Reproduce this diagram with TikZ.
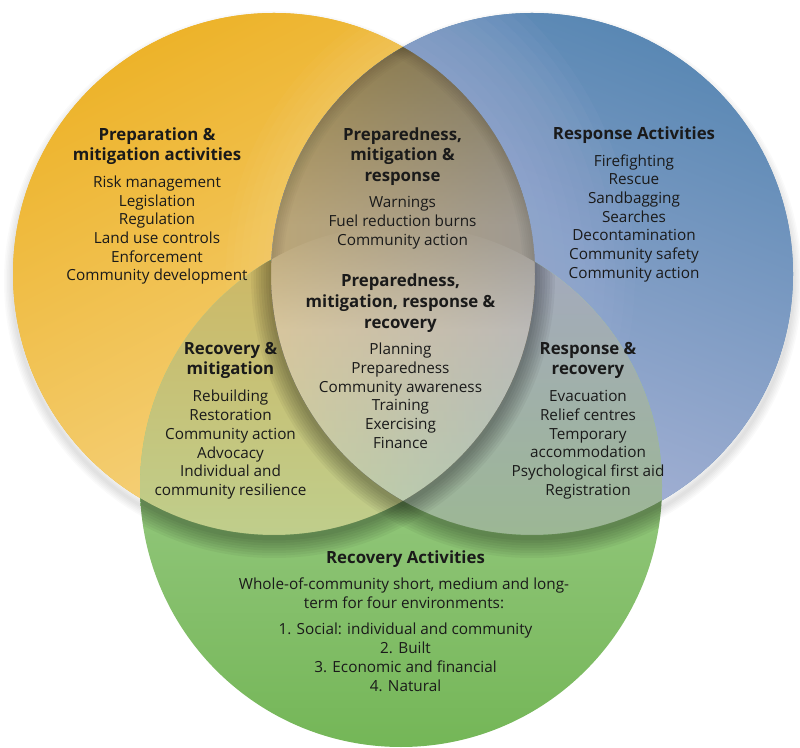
\documentclass[tikz,border=0pt]{standalone}
\usepackage{fontspec}
\setmainfont{Open Sans}
\definecolor{ylw}{HTML}{EDB32A}
\definecolor{ylwlt}{HTML}{F6D68A}
\definecolor{blu}{HTML}{5A88B4}
\definecolor{blult}{HTML}{AEB6D8}
\definecolor{bluglow}{HTML}{A6B2D8}
\definecolor{grnlt}{HTML}{B0D79F}
\definecolor{grndk}{HTML}{74B657}
\definecolor{ygtop}{HTML}{CDB866}
\definecolor{ygbot}{HTML}{BFCE8C}
\definecolor{bgtop}{HTML}{A4AABD}
\definecolor{bgbot}{HTML}{9CB794}
\definecolor{lnstop}{HTML}{6E5E2A}
\definecolor{lnsmid}{HTML}{A29577}
\definecolor{trimid}{HTML}{CEC6B0}
\definecolor{tribot}{HTML}{B8D6B4}
\definecolor{warm}{HTML}{E9C67A}
\definecolor{cool}{HTML}{98A2C6}
\definecolor{txt}{HTML}{1A1A1A}
\tikzset{
  ttl/.style={font=\bfseries\fontsize{16.8}{20.7}\selectfont, align=center, anchor=base, inner sep=0pt, text=txt},
  bdy/.style={font=\fontsize{15.3}{18.7}\selectfont, align=center, anchor=base, inner sep=0pt, text=txt},
  shd/.style={black, opacity=0.045}
}
\begin{document}
\begin{tikzpicture}[x=1pt,y=1pt]
\useasboundingbox (0,0) rectangle (800,747);
\def\ycirc{(274,473) circle (261)}
\def\bcirc{(532,473) circle (261)}
\def\gcirc{(401,261) circle (261)}
% soft drop shadows on white
\foreach \w in {3,6,...,18} {
  \draw[black,opacity=0.02,line width=\w] (274,466) circle (261);
  \draw[black,opacity=0.02,line width=\w] (532,466) circle (261);
}
% yellow circle
\fill[ylw] \ycirc;
\shade[top color=ylw, middle color=ylw, bottom color=ylwlt, shading angle=27] \ycirc;
\begin{scope}
  \clip \ycirc;
  \begin{scope}[even odd rule]
    \clip (-10,-10) rectangle (810,760) \bcirc;
    \foreach \w in {15,30,...,90} {\draw[ylwlt, opacity=0.06, line width=\w] (532,473) circle (261);}
  \end{scope}
\end{scope}
% blue circle
\fill[blu] \bcirc;
\shade[top color=blu, bottom color=blult, shading angle=-21] \bcirc;
\begin{scope}
  \clip \bcirc;
  \begin{scope}[even odd rule]
    \clip (-10,-10) rectangle (810,760) \ycirc;
    \foreach \w in {20,40,...,200} {\draw[bluglow, opacity=0.07, line width=\w] (274,473) circle (261);}
  \end{scope}
\end{scope}
% green circle
\shade[top color=grnlt, bottom color=grndk] \gcirc;
% yellow & green
\begin{scope}
  \clip \ycirc; \clip \gcirc;
  \shade[top color=ygtop, bottom color=ygbot] (130,485) rectangle (540,210);
\end{scope}
% blue & green
\begin{scope}
  \clip \bcirc; \clip \gcirc;
  \shade[top color=bgtop, bottom color=bgbot] (265,485) rectangle (670,210);
\end{scope}
% yellow & blue lens and triple region
\begin{scope}
  \clip \ycirc; \clip \bcirc;
  \shade[top color=lnstop, bottom color=lnsmid] (265,700) rectangle (540,522);
  \fill[lnsmid] (265,522) rectangle (540,240);
  \begin{scope}
    \clip \gcirc;
    \shade[top color=lnsmid, bottom color=trimid] (265,522) rectangle (540,417);
    \shade[top color=trimid, bottom color=tribot] (265,417) rectangle (540,246);
  \end{scope}
  \shade[left color=warm, right color=cool, opacity=0.35] (271,700) rectangle (535,246);
\end{scope}
% shadow of yellow onto green
\begin{scope}
  \clip \gcirc;
  \begin{scope}[even odd rule]
    \clip (-10,-10) rectangle (810,760) \ycirc;
    \foreach \w in {5,10,...,40} {\draw[shd, line width=\w] (274,470) circle (261);}
  \end{scope}
\end{scope}
% shadow of blue onto green
\begin{scope}
  \clip \gcirc;
  \begin{scope}[even odd rule]
    \clip (-10,-10) rectangle (810,760) \bcirc;
    \foreach \w in {5,10,...,40} {\draw[shd, line width=\w] (532,470) circle (261);}
  \end{scope}
\end{scope}
% inner shadow of lens above green
\begin{scope}
  \clip \ycirc; \clip \bcirc;
  \begin{scope}[even odd rule]
    \clip (-10,-10) rectangle (810,760) \gcirc;
    \foreach \w in {4,8,...,24} {
      \draw[black,opacity=0.018, line width=\w] (274,473) circle (261);
      \draw[black,opacity=0.018, line width=\w] (532,473) circle (261);
    }
  \end{scope}
\end{scope}
% texts (anchor = baseline of the last line)
\node[ttl] (t1) at (157,586) {Preparation \&\\mitigation activities};
\node[bdy] (b1) at (157,466) {Risk management\\Legislation\\Regulation\\Land use controls\\Enforcement\\Community development};
\node[ttl] (t2) at (402.5,565.3) {Preparedness,\\mitigation \&\\response};
\node[bdy] (b2) at (402.5,501.7) {Warnings\\Fuel reduction burns\\Community action};
\node[ttl] (t3) at (634,607) {Response Activities};
\node[bdy] (b3) at (634,468.7) {Firefighting\\Rescue\\Sandbagging\\Searches\\Decontamination\\Community safety\\Community action};
\node[ttl] (t4) at (400.5,418.6) {Preparedness,\\mitigation, response \&\\recovery};
\node[bdy] (b4) at (400.5,298.7) {Planning\\Preparedness\\Community awareness\\Training\\Exercising\\Finance};
\node[ttl] (t5) at (230.5,372) {Recovery \&\\mitigation};
\node[bdy] (b5) at (230.5,251.5) {Rebuilding\\Restoration\\Community action\\Advocacy\\Individual and\\community resilience};
\node[ttl] (t6) at (588,372) {Response \&\\recovery};
\node[bdy] (b6) at (588,251.8) {Evacuation\\Relief centres\\Temporary\\accommodation\\Psychological first aid\\Registration};
\node[ttl] (t7) at (405.5,183.7) {Recovery Activities};
\node[bdy] (b7a) at (404,138.7) {Whole-of-community short, medium and long-\\term for four environments:};
\node[bdy] (b7b) at (405.5,56) {1. Social: individual and community\\2. Built\\3. Economic and financial\\4. Natural};
\end{tikzpicture}
\end{document}
